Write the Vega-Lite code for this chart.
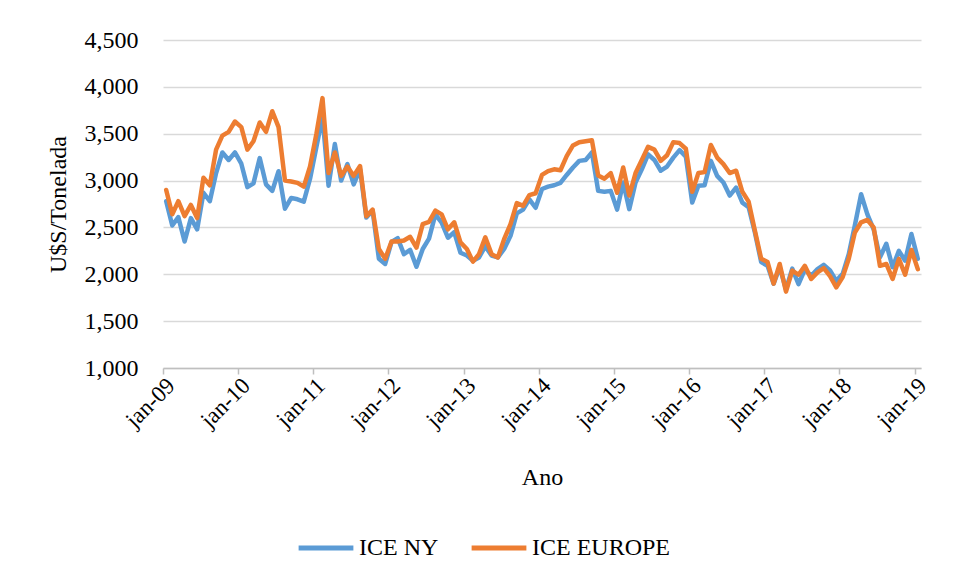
{
  "$schema": "https://vega.github.io/schema/vega-lite/v6.json",
  "width": 758,
  "height": 328,
  "autosize": {"type": "none"},
  "padding": {"left": 163, "top": 40, "right": 34, "bottom": 211},
  "background": "white",
  "config": {
    "font": "Liberation Serif",
    "view": {"stroke": null},
    "axis": {"labelFont": "Liberation Serif", "titleFont": "Liberation Serif"},
    "legend": {"labelFont": "Liberation Serif", "titleFont": "Liberation Serif"}
  },
  "data": {"values": [
    {"d":"2009-01-01","ICE NY":2780,"ICE EUROPE":2900},
    {"d":"2009-02-01","ICE NY":2520,"ICE EUROPE":2640},
    {"d":"2009-03-01","ICE NY":2610,"ICE EUROPE":2780},
    {"d":"2009-04-01","ICE NY":2350,"ICE EUROPE":2620},
    {"d":"2009-05-01","ICE NY":2600,"ICE EUROPE":2740},
    {"d":"2009-06-01","ICE NY":2480,"ICE EUROPE":2600},
    {"d":"2009-07-01","ICE NY":2870,"ICE EUROPE":3030},
    {"d":"2009-08-01","ICE NY":2780,"ICE EUROPE":2950},
    {"d":"2009-09-01","ICE NY":3080,"ICE EUROPE":3330},
    {"d":"2009-10-01","ICE NY":3300,"ICE EUROPE":3480},
    {"d":"2009-11-01","ICE NY":3220,"ICE EUROPE":3520},
    {"d":"2009-12-01","ICE NY":3300,"ICE EUROPE":3630},
    {"d":"2010-01-01","ICE NY":3180,"ICE EUROPE":3570},
    {"d":"2010-02-01","ICE NY":2930,"ICE EUROPE":3330},
    {"d":"2010-03-01","ICE NY":2970,"ICE EUROPE":3420},
    {"d":"2010-04-01","ICE NY":3240,"ICE EUROPE":3620},
    {"d":"2010-05-01","ICE NY":2960,"ICE EUROPE":3520},
    {"d":"2010-06-01","ICE NY":2890,"ICE EUROPE":3740},
    {"d":"2010-07-01","ICE NY":3100,"ICE EUROPE":3570},
    {"d":"2010-08-01","ICE NY":2700,"ICE EUROPE":3000},
    {"d":"2010-09-01","ICE NY":2815,"ICE EUROPE":2990},
    {"d":"2010-10-01","ICE NY":2800,"ICE EUROPE":2975},
    {"d":"2010-11-01","ICE NY":2775,"ICE EUROPE":2935},
    {"d":"2010-12-01","ICE NY":3020,"ICE EUROPE":3150},
    {"d":"2011-01-01","ICE NY":3360,"ICE EUROPE":3500},
    {"d":"2011-02-01","ICE NY":3680,"ICE EUROPE":3880},
    {"d":"2011-03-01","ICE NY":2945,"ICE EUROPE":3080},
    {"d":"2011-04-01","ICE NY":3390,"ICE EUROPE":3300},
    {"d":"2011-05-01","ICE NY":3000,"ICE EUROPE":3050},
    {"d":"2011-06-01","ICE NY":3175,"ICE EUROPE":3150},
    {"d":"2011-07-01","ICE NY":2960,"ICE EUROPE":3050},
    {"d":"2011-08-01","ICE NY":3120,"ICE EUROPE":3155},
    {"d":"2011-09-01","ICE NY":2605,"ICE EUROPE":2620},
    {"d":"2011-10-01","ICE NY":2680,"ICE EUROPE":2690},
    {"d":"2011-11-01","ICE NY":2165,"ICE EUROPE":2270},
    {"d":"2011-12-01","ICE NY":2110,"ICE EUROPE":2165},
    {"d":"2012-01-01","ICE NY":2345,"ICE EUROPE":2350},
    {"d":"2012-02-01","ICE NY":2385,"ICE EUROPE":2350},
    {"d":"2012-03-01","ICE NY":2215,"ICE EUROPE":2360},
    {"d":"2012-04-01","ICE NY":2260,"ICE EUROPE":2400},
    {"d":"2012-05-01","ICE NY":2080,"ICE EUROPE":2285},
    {"d":"2012-06-01","ICE NY":2270,"ICE EUROPE":2535},
    {"d":"2012-07-01","ICE NY":2380,"ICE EUROPE":2560},
    {"d":"2012-08-01","ICE NY":2640,"ICE EUROPE":2680},
    {"d":"2012-09-01","ICE NY":2550,"ICE EUROPE":2640},
    {"d":"2012-10-01","ICE NY":2390,"ICE EUROPE":2480},
    {"d":"2012-11-01","ICE NY":2450,"ICE EUROPE":2555},
    {"d":"2012-12-01","ICE NY":2230,"ICE EUROPE":2340},
    {"d":"2013-01-01","ICE NY":2200,"ICE EUROPE":2270},
    {"d":"2013-02-01","ICE NY":2145,"ICE EUROPE":2135},
    {"d":"2013-03-01","ICE NY":2180,"ICE EUROPE":2215},
    {"d":"2013-04-01","ICE NY":2300,"ICE EUROPE":2395},
    {"d":"2013-05-01","ICE NY":2200,"ICE EUROPE":2215},
    {"d":"2013-06-01","ICE NY":2180,"ICE EUROPE":2180},
    {"d":"2013-07-01","ICE NY":2270,"ICE EUROPE":2375},
    {"d":"2013-08-01","ICE NY":2410,"ICE EUROPE":2535},
    {"d":"2013-09-01","ICE NY":2650,"ICE EUROPE":2760},
    {"d":"2013-10-01","ICE NY":2690,"ICE EUROPE":2730},
    {"d":"2013-11-01","ICE NY":2800,"ICE EUROPE":2845},
    {"d":"2013-12-01","ICE NY":2710,"ICE EUROPE":2865},
    {"d":"2014-01-01","ICE NY":2910,"ICE EUROPE":3060},
    {"d":"2014-02-01","ICE NY":2935,"ICE EUROPE":3100},
    {"d":"2014-03-01","ICE NY":2950,"ICE EUROPE":3120},
    {"d":"2014-04-01","ICE NY":2975,"ICE EUROPE":3110},
    {"d":"2014-05-01","ICE NY":3060,"ICE EUROPE":3260},
    {"d":"2014-06-01","ICE NY":3140,"ICE EUROPE":3375},
    {"d":"2014-07-01","ICE NY":3210,"ICE EUROPE":3410},
    {"d":"2014-08-01","ICE NY":3220,"ICE EUROPE":3420},
    {"d":"2014-09-01","ICE NY":3300,"ICE EUROPE":3430},
    {"d":"2014-10-01","ICE NY":2890,"ICE EUROPE":3055},
    {"d":"2014-11-01","ICE NY":2880,"ICE EUROPE":3020},
    {"d":"2014-12-01","ICE NY":2890,"ICE EUROPE":3080},
    {"d":"2015-01-01","ICE NY":2690,"ICE EUROPE":2870},
    {"d":"2015-02-01","ICE NY":2980,"ICE EUROPE":3140},
    {"d":"2015-03-01","ICE NY":2695,"ICE EUROPE":2840},
    {"d":"2015-04-01","ICE NY":2980,"ICE EUROPE":3080},
    {"d":"2015-05-01","ICE NY":3120,"ICE EUROPE":3220},
    {"d":"2015-06-01","ICE NY":3280,"ICE EUROPE":3360},
    {"d":"2015-07-01","ICE NY":3220,"ICE EUROPE":3330},
    {"d":"2015-08-01","ICE NY":3105,"ICE EUROPE":3210},
    {"d":"2015-09-01","ICE NY":3150,"ICE EUROPE":3270},
    {"d":"2015-10-01","ICE NY":3245,"ICE EUROPE":3410},
    {"d":"2015-11-01","ICE NY":3325,"ICE EUROPE":3400},
    {"d":"2015-12-01","ICE NY":3255,"ICE EUROPE":3340},
    {"d":"2016-01-01","ICE NY":2765,"ICE EUROPE":2880},
    {"d":"2016-02-01","ICE NY":2945,"ICE EUROPE":3080},
    {"d":"2016-03-01","ICE NY":2950,"ICE EUROPE":3090},
    {"d":"2016-04-01","ICE NY":3210,"ICE EUROPE":3380},
    {"d":"2016-05-01","ICE NY":3050,"ICE EUROPE":3245},
    {"d":"2016-06-01","ICE NY":2980,"ICE EUROPE":3175},
    {"d":"2016-07-01","ICE NY":2840,"ICE EUROPE":3080},
    {"d":"2016-08-01","ICE NY":2925,"ICE EUROPE":3105},
    {"d":"2016-09-01","ICE NY":2765,"ICE EUROPE":2880},
    {"d":"2016-10-01","ICE NY":2715,"ICE EUROPE":2775},
    {"d":"2016-11-01","ICE NY":2445,"ICE EUROPE":2465},
    {"d":"2016-12-01","ICE NY":2130,"ICE EUROPE":2165},
    {"d":"2017-01-01","ICE NY":2090,"ICE EUROPE":2130},
    {"d":"2017-02-01","ICE NY":1900,"ICE EUROPE":1900},
    {"d":"2017-03-01","ICE NY":2075,"ICE EUROPE":2110},
    {"d":"2017-04-01","ICE NY":1840,"ICE EUROPE":1815},
    {"d":"2017-05-01","ICE NY":2060,"ICE EUROPE":2040},
    {"d":"2017-06-01","ICE NY":1895,"ICE EUROPE":1995},
    {"d":"2017-07-01","ICE NY":2050,"ICE EUROPE":2090},
    {"d":"2017-08-01","ICE NY":1985,"ICE EUROPE":1950},
    {"d":"2017-09-01","ICE NY":2055,"ICE EUROPE":2020},
    {"d":"2017-10-01","ICE NY":2100,"ICE EUROPE":2065},
    {"d":"2017-11-01","ICE NY":2040,"ICE EUROPE":1980},
    {"d":"2017-12-01","ICE NY":1930,"ICE EUROPE":1860},
    {"d":"2018-01-01","ICE NY":2005,"ICE EUROPE":1970},
    {"d":"2018-02-01","ICE NY":2215,"ICE EUROPE":2165},
    {"d":"2018-03-01","ICE NY":2520,"ICE EUROPE":2445},
    {"d":"2018-04-01","ICE NY":2855,"ICE EUROPE":2555},
    {"d":"2018-05-01","ICE NY":2640,"ICE EUROPE":2580},
    {"d":"2018-06-01","ICE NY":2480,"ICE EUROPE":2500},
    {"d":"2018-07-01","ICE NY":2180,"ICE EUROPE":2090},
    {"d":"2018-08-01","ICE NY":2325,"ICE EUROPE":2110},
    {"d":"2018-09-01","ICE NY":2075,"ICE EUROPE":1950},
    {"d":"2018-10-01","ICE NY":2250,"ICE EUROPE":2165},
    {"d":"2018-11-01","ICE NY":2145,"ICE EUROPE":1995},
    {"d":"2018-12-01","ICE NY":2430,"ICE EUROPE":2260},
    {"d":"2019-01-01","ICE NY":2165,"ICE EUROPE":2055}
  ]},
  "transform": [{"fold": ["ICE NY", "ICE EUROPE"], "as": ["series", "price"]}],
  "mark": {"type": "line", "strokeWidth": 4.5, "strokeJoin": "round", "strokeCap": "round"},
  "encoding": {
    "x": {
      "field": "d",
      "timeUnit": "utcyearmonth",
      "type": "temporal",
      "bandPosition": 0.5,
      "scale": {"type": "utc", "domain": [{"year": 2009, "month": 1, "date": 1, "utc": true}, {"year": 2019, "month": 2, "date": 1, "utc": true}]},
      "axis": {
        "values": [
          {"year": 2009, "month": 1, "date": 1, "utc": true},
          {"year": 2010, "month": 1, "date": 1, "utc": true},
          {"year": 2011, "month": 1, "date": 1, "utc": true},
          {"year": 2012, "month": 1, "date": 1, "utc": true},
          {"year": 2013, "month": 1, "date": 1, "utc": true},
          {"year": 2014, "month": 1, "date": 1, "utc": true},
          {"year": 2015, "month": 1, "date": 1, "utc": true},
          {"year": 2016, "month": 1, "date": 1, "utc": true},
          {"year": 2017, "month": 1, "date": 1, "utc": true},
          {"year": 2018, "month": 1, "date": 1, "utc": true},
          {"year": 2019, "month": 1, "date": 1, "utc": true}
        ],
        "labelExpr": "'jan-' + utcFormat(datum.value, '%y')",
        "labelAngle": -45,
        "labelAlign": "right",
        "labelBaseline": "top",
        "labelFont": "Liberation Serif",
        "labelFontSize": 23,
        "labelColor": "black",
        "labelPadding": 0,
        "labelFlush": false,
        "labelOverlap": false,
        "grid": false,
        "domainColor": "#bfbfbf",
        "domainWidth": 1.5,
        "tickColor": "#bfbfbf",
        "tickWidth": 1.5,
        "tickSize": 6,
        "title": "Ano",
        "titleFont": "Liberation Serif",
        "titleFontSize": 24,
        "titleFontWeight": "normal",
        "titleColor": "black",
        "titlePadding": 34
      }
    },
    "y": {
      "field": "price",
      "type": "quantitative",
      "scale": {"domain": [1000, 4500], "nice": false, "zero": false},
      "axis": {
        "values": [1000, 1500, 2000, 2500, 3000, 3500, 4000, 4500],
        "format": ",.0f",
        "domain": false,
        "ticks": false,
        "labelFont": "Liberation Serif",
        "labelFontSize": 24,
        "labelColor": "black",
        "labelPadding": 25,
        "gridColor": "#d9d9d9",
        "gridWidth": 1.5,
        "title": "U$S/Tonelada",
        "titleFont": "Liberation Serif",
        "titleFontSize": 24,
        "titleFontWeight": "normal",
        "titleColor": "black",
        "titlePadding": 14
      }
    },
    "color": {
      "field": "series",
      "type": "nominal",
      "scale": {"domain": ["ICE NY", "ICE EUROPE"], "range": ["#5B9BD5", "#ED7D31"]},
      "legend": {
        "orient": "none",
        "legendX": 133,
        "legendY": 478,
        "direction": "horizontal",
        "title": null,
        "symbolType": "stroke",
        "symbolStrokeWidth": 5,
        "symbolSize": 3000,
        "labelFont": "Liberation Serif",
        "labelFontSize": 24,
        "labelColor": "black",
        "labelOffset": 3,
        "columnPadding": 22
      }
    }
  }
}
